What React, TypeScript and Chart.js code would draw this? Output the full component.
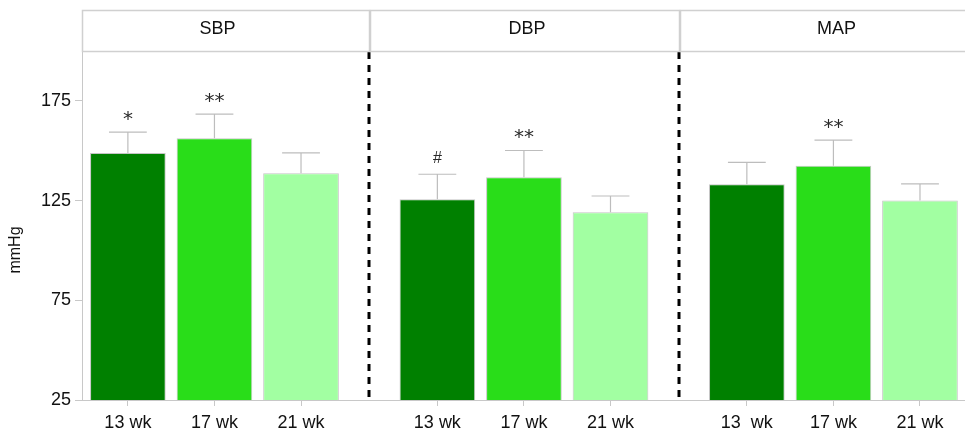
import React, { useEffect, useRef } from "react";
import { Chart, registerables } from "chart.js";

Chart.register(...registerables);

// ---- data ----
const groups = ["SBP", "DBP", "MAP"];
const tickLabels = ["13 wk", "17 wk", "21 wk", "13 wk", "17 wk", "21 wk", "13  wk", "17 wk", "21 wk"];
const sbpMean = [148.8, 156.3, 138.7];
const sbpErr = [10.5, 12.0, 10.2];
const dbpMean = [125.7, 136.7, 119.2];
const dbpErr = [12.5, 13.4, 8.1];
const mapMean = [133.2, 142.5, 125.0];
const mapErr = [11.0, 12.8, 8.4];
const sbpSig = ["*", "**", ""];
const dbpSig = ["#", "**", ""];
const mapSig = ["", "**", ""];
const yTicks = [25, 75, 125, 175];
const yMin = 25;
const yMax = 200;
const yTitle = "mmHg";

// ---- styling / layout ----
const weekColors = ["#008000", "#29dd19", "#a2ffa2"];
const GROUP_STRIDE = 3.575; // group spacing in units of bar spacing
const FONT = "'Liberation Sans', Arial, sans-serif";
const GREY = "#c8c8c8";

const means = [sbpMean, dbpMean, mapMean];
const errs = [sbpErr, dbpErr, mapErr];
const sigs = [sbpSig, dbpSig, mapSig];

const points: { x: number; y: number }[] = [];
const colors: string[] = [];
const errList: number[] = [];
const sigList: string[] = [];
groups.forEach((_, g) => {
  means[g].forEach((v, t) => {
    points.push({ x: g * GROUP_STRIDE + t, y: v });
    colors.push(weekColors[t]);
    errList.push(errs[g][t]);
    sigList.push(sigs[g][t]);
  });
});
const xPositions = points.map((p) => p.x);

const overlayPlugin = {
  id: "overlay",
  afterDatasetsDraw(chart: any) {
    const ctx = chart.ctx as CanvasRenderingContext2D;
    const meta = chart.getDatasetMeta(0);
    const ys = chart.scales.y;
    const xs = chart.scales.x;
    const area = chart.chartArea;
    ctx.save();
    // error bars
    meta.data.forEach((el: any, i: number) => {
      const capY = ys.getPixelForValue(points[i].y + errList[i]);
      const half = el.width / 4;
      ctx.strokeStyle = "#bdbdbd";
      ctx.lineWidth = 1.2;
      ctx.beginPath();
      ctx.moveTo(el.x, el.y);
      ctx.lineTo(el.x, capY);
      ctx.moveTo(el.x - half, capY);
      ctx.lineTo(el.x + half, capY);
      ctx.stroke();
      const s = sigList[i];
      if (s) {
        ctx.font = s === "#" ? `16px ${FONT}` : `20px 'DejaVu Sans', sans-serif`;
        ctx.fillStyle = "#2a2a2a";
        ctx.textAlign = "center";
        ctx.textBaseline = "alphabetic";
        const m = ctx.measureText(s);
        const cy = capY - 17;
        const base = cy + (m.actualBoundingBoxAscent - m.actualBoundingBoxDescent) / 2;
        ctx.fillText(s, el.x, base);
      }
    });
    // dashed separators
    ctx.strokeStyle = "#000";
    ctx.lineWidth = 3;
    ctx.setLineDash([7, 6]);
    for (let g = 0; g < groups.length - 1; g++) {
      const sx = Math.round(xs.getPixelForValue((g * GROUP_STRIDE + 2 + (g + 1) * GROUP_STRIDE) / 2));
      ctx.beginPath();
      ctx.moveTo(sx, area.top + 1);
      ctx.lineTo(sx, area.bottom);
      ctx.stroke();
    }
    ctx.restore();
  },
  afterDraw(chart: any) {
    const ctx = chart.ctx as CanvasRenderingContext2D;
    const xs = chart.scales.x;
    const area = chart.chartArea;
    ctx.save();
    const seps: number[] = [];
    for (let g = 0; g < groups.length - 1; g++) {
      seps.push(Math.round(xs.getPixelForValue((g * GROUP_STRIDE + 2 + (g + 1) * GROUP_STRIDE) / 2)));
    }
    const top = 10.5;
    const bottom = area.top + 0.5;
    ctx.strokeStyle = "#d0d0d0";
    ctx.lineWidth = 1.5;
    groups.forEach((name, g) => {
      const l = g === 0 ? Math.round(area.left) : seps[g - 1] + 1;
      const r = g === groups.length - 1 ? area.right + 4 : seps[g];
      ctx.strokeRect(l + 0.5, top, r - l, bottom - top);
      ctx.font = `18px ${FONT}`;
      ctx.fillStyle = "#111";
      ctx.textAlign = "center";
      ctx.textBaseline = "alphabetic";
      const m = ctx.measureText(name);
      const cx = xs.getPixelForValue(g * GROUP_STRIDE + 1) + 3;
      const cy = 27.5;
      ctx.fillText(name, cx, cy + (m.actualBoundingBoxAscent - m.actualBoundingBoxDescent) / 2);
    });
    // y title
    ctx.translate(15.5, 250);
    ctx.rotate(-Math.PI / 2);
    ctx.font = `16px ${FONT}`;
    ctx.fillStyle = "#111";
    ctx.textAlign = "center";
    ctx.textBaseline = "middle";
    ctx.fillText(yTitle, 0, 0);
    ctx.restore();
  },
};

export default function App() {
  const ref = useRef<HTMLCanvasElement>(null);
  useEffect(() => {
    if (!ref.current) return;
    const chart = new Chart(ref.current, {
      type: "bar",
      data: {
        datasets: [
          {
            data: points as any,
            backgroundColor: colors,
            borderColor: "rgba(150,150,150,0.55)",
            borderWidth: 1,
            barPercentage: 0.874,
            categoryPercentage: 1,
          },
        ],
      },
      options: {
        animation: false,
        responsive: false,
        maintainAspectRatio: false,
        devicePixelRatio: 1,
        layout: { padding: { top: 51, left: 0, right: 0, bottom: 0 } },
        plugins: { legend: { display: false }, tooltip: { enabled: false } },
        scales: {
          x: {
            type: "linear",
            offset: false,
            min: -0.53,
            max: 2 * GROUP_STRIDE + 2 + 0.52,
            afterBuildTicks: (s: any) => {
              s.ticks = xPositions.map((v) => ({ value: v }));
            },
            afterFit: (s: any) => {
              s.height = 32;
            },
            ticks: {
              autoSkip: false,
              maxRotation: 0,
              padding: 6,
              color: "#111",
              font: { size: 18, family: FONT },
              callback: (_v: any, i: number) => tickLabels[i],
            },
            grid: { drawOnChartArea: false, drawTicks: true, tickLength: 6, color: GREY, offset: false },
            border: { color: GREY },
          },
          y: {
            type: "linear",
            min: yMin,
            max: yMax,
            afterBuildTicks: (s: any) => {
              s.ticks = yTicks.map((v) => ({ value: v }));
            },
            afterFit: (s: any) => {
              s.width = 82;
            },
            ticks: {
              padding: 4,
              color: "#111",
              font: { size: 18, family: FONT },
            },
            grid: { drawOnChartArea: false, drawTicks: true, tickLength: 7, color: GREY },
            border: { color: GREY },
          },
        },
      } as any,
      plugins: [overlayPlugin],
    });
    return () => chart.destroy();
  }, []);
  return (
    <div style={{ position: "absolute", left: 0, top: 0, width: 965, height: 432, background: "#fff" }}>
      <canvas ref={ref} width={965} height={432} style={{ display: "block", width: 965, height: 432 }} />
    </div>
  );
}
